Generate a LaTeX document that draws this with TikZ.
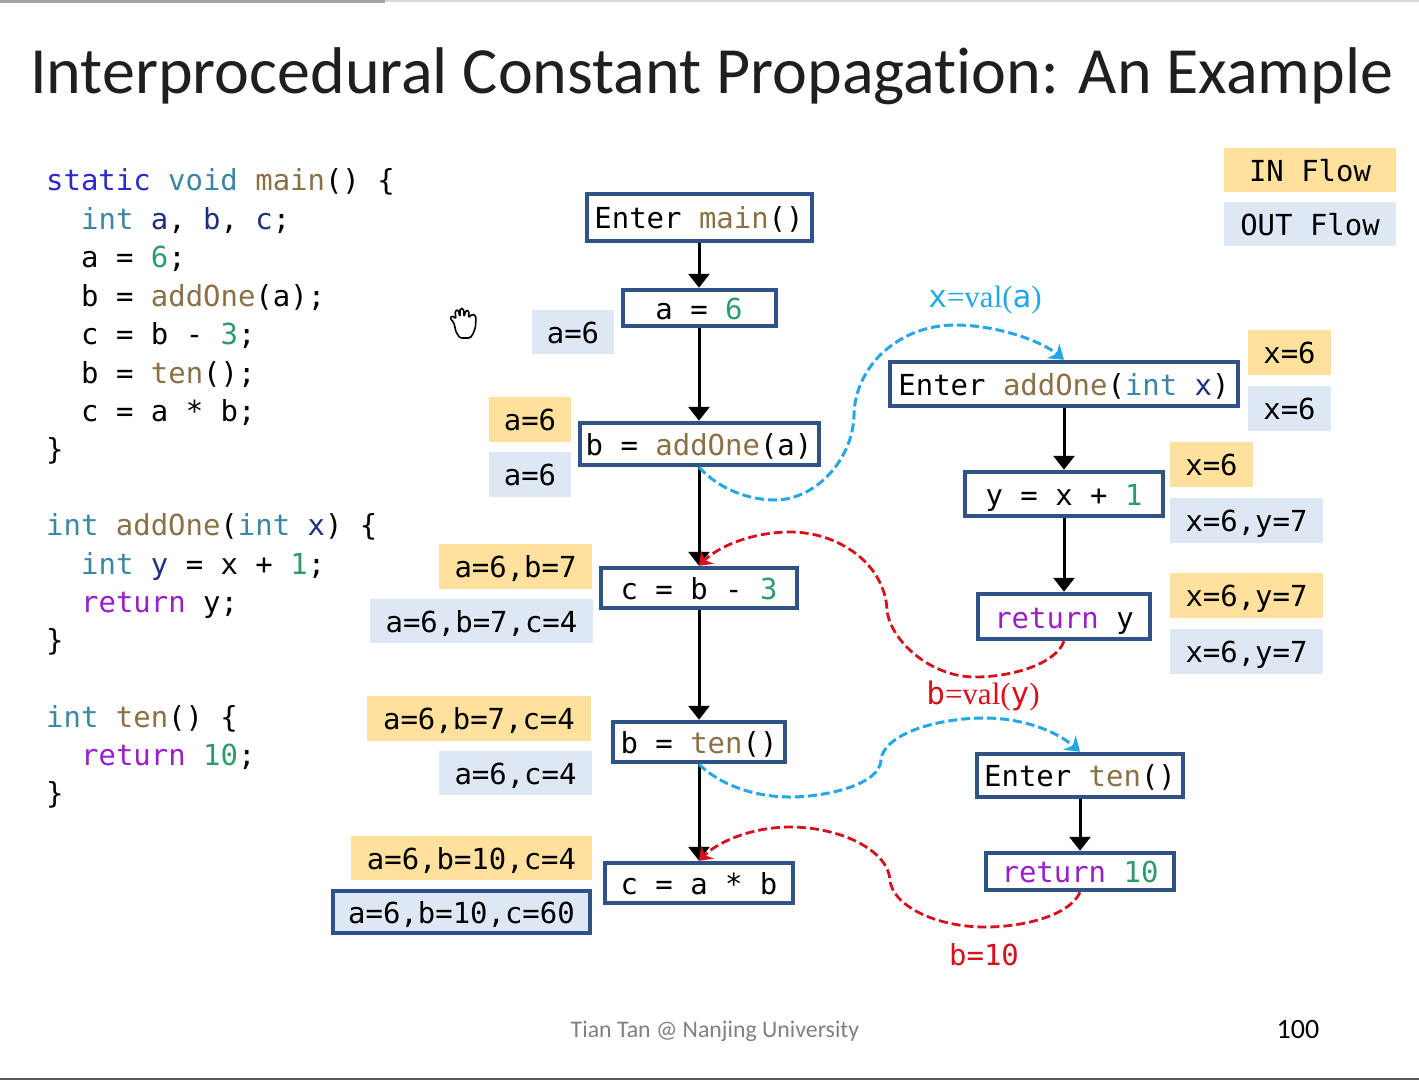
\documentclass[tikz,border=0pt]{standalone}
\usepackage{fontspec}
\usetikzlibrary{arrows.meta}
\setmainfont[Ligatures={NoCommon,NoRare,NoContextual}]{Carlito}
\newfontfamily\monof{DejaVu Sans Mono}
\newfontfamily\serf{Liberation Serif}
\definecolor{kwblue}{HTML}{2A2AD0}
\definecolor{kwteal}{HTML}{3A87A3}
\definecolor{fnbrown}{HTML}{8A7045}
\definecolor{numgreen}{HTML}{2E9B6B}
\definecolor{retpurple}{HTML}{9A1FC8}
\definecolor{varnavy}{HTML}{1F2F80}
\definecolor{boxblue}{HTML}{2F5288}
\definecolor{inyellow}{HTML}{FFE09C}
\definecolor{outblue}{HTML}{DEE8F5}
\definecolor{callblue}{HTML}{22A8E8}
\definecolor{retred}{HTML}{D9101C}
\newcommand{\kw}[1]{\textcolor{kwblue}{#1}}
\newcommand{\ty}[1]{\textcolor{kwteal}{#1}}
\newcommand{\fn}[1]{\textcolor{fnbrown}{#1}}
\newcommand{\nm}[1]{\textcolor{numgreen}{#1}}
\newcommand{\rt}[1]{\textcolor{retpurple}{#1}}
\newcommand{\vr}[1]{\textcolor{varnavy}{#1}}
\tikzset{
  mono/.style={font=\monof\fontsize{28.95}{30}\selectfont},
  codeline/.style={mono,anchor=base west,inner sep=0pt,text=black},
  cfgbox/.style={mono,draw=boxblue,line width=4pt,fill=white,inner sep=0pt,text height=22pt,text depth=0pt,align=center},
  flowbase/.style={mono,inner sep=0pt,text height=22pt,text depth=0pt,align=center},
  inflow/.style={flowbase,fill=inyellow},
  outflow/.style={flowbase,fill=outblue},
  flowedge/.style={draw=black,line width=3pt,-{Triangle[length=14pt,width=21pt]}},
  calledge/.style={draw=callblue,line width=3pt,dash pattern=on 9pt off 4pt,-{Stealth[length=14pt,width=19pt]}},
  retedge/.style={draw=retred,line width=2.8pt,dash pattern=on 9pt off 4pt,-{Stealth[length=12pt,width=18pt]}},
}
\begin{document}
\begin{tikzpicture}[x=1pt,y=-1pt]
\useasboundingbox (0,0) rectangle (1419,1080);
\fill[white] (0,0) rectangle (1419,1080);
% window edges
\fill[black!15] (0,0) rectangle (1419,2);
\fill[black!35] (0,0) rectangle (385,3);
\fill[black!65] (0,1077.5) rectangle (1419,1080);
% title
\node[anchor=base west,inner sep=0pt,text=black!88,font=\fontsize{66}{70}\selectfont] (title) at (30,93) {Interprocedural Constant Propagation: An Example};
% code
\node[codeline] (c1) at (46,190.5) {\kw{static} \ty{void} \fn{main}() \{};
\node[codeline] (c2) at (81,229) {\ty{int} \vr{a}, \vr{b}, \vr{c};};
\node[codeline] (c3) at (81,267) {a = \nm{6};};
\node[codeline] (c4) at (81,306) {b = \fn{addOne}(a);};
\node[codeline] (c5) at (81,344) {c = b - \nm{3};};
\node[codeline] (c6) at (81,383) {b = \fn{ten}();};
\node[codeline] (c7) at (81,421) {c = a * b;};
\node[codeline] (c8) at (46,459) {\}};
\node[codeline] (c9) at (46,535) {\ty{int} \fn{addOne}(\ty{int} \vr{x}) \{};
\node[codeline] (c10) at (81,574) {\ty{int} \vr{y} = x + \nm{1};};
\node[codeline] (c11) at (81,612) {\rt{return} y;};
\node[codeline] (c12) at (46,650) {\}};
\node[codeline] (c13) at (46,727) {\ty{int} \fn{ten}() \{};
\node[codeline] (c14) at (81,765) {\rt{return} \nm{10};};
\node[codeline] (c15) at (46,803) {\}};
% hand cursor
\draw[black,line width=1.6pt,fill=white,line join=round,rounded corners=1.5pt]
 (454,323) -- (450,318) -- (452,315.5) -- (456,319) -- (455,311) -- (458,309.5) -- (460,317) -- (460,308.5) -- (463.5,308.5) -- (464,317) -- (466,310) -- (469,311) -- (468.5,318) -- (472,314) -- (476,316) -- (475.5,327) -- (473,334) -- (470,338) -- (460,338) -- (456,332) -- cycle;
% legend
\node[inflow,minimum width=172pt,minimum height=44pt] (lin) at (1310,170) {IN Flow};
\node[outflow,minimum width=172pt,minimum height=44pt] (lout) at (1310,224) {OUT Flow};
% CFG main
\node[cfgbox,minimum width=225pt,minimum height=47.5pt] (m0) at (699,217.5) {Enter \fn{main}()};
\node[cfgbox,minimum width=153pt,minimum height=36.5pt] (m1) at (699,308) {a = \nm{6}};
\node[cfgbox,minimum width=239pt,minimum height=42.5pt] (m2) at (699,444) {b = \fn{addOne}(a)};
\node[cfgbox,minimum width=195.5pt,minimum height=40.5pt] (m3) at (699,588) {c = b - \nm{3}};
\node[cfgbox,minimum width=172.5pt,minimum height=40.5pt] (m4) at (699,742) {b = \fn{ten}()};
\node[cfgbox,minimum width=188.5pt,minimum height=40.5pt] (m5) at (699,883) {c = a * b};
% CFG addOne
\node[cfgbox,minimum width=348.5pt,minimum height=44.5pt] (a0) at (1064,384) {Enter \fn{addOne}(\ty{int} \vr{x})};
\node[cfgbox,minimum width=198.5pt,minimum height=44.5pt] (a1) at (1064,494) {y = x + \nm{1}};
\node[cfgbox,minimum width=172.5pt,minimum height=45.5pt,text height=24pt] (a2) at (1064,616.5) {\rt{return} y};
% CFG ten
\node[cfgbox,minimum width=205.5pt,minimum height=43.5pt] (t0) at (1080,775.5) {Enter \fn{ten}()};
\node[cfgbox,minimum width=188.5pt,minimum height=37.5pt] (t1) at (1080,871.5) {\rt{return} \nm{10}};
% flow edges
\draw[flowedge] (m0) -- (m1);
\draw[flowedge] (m1) -- (m2);
\draw[flowedge] (m2) -- (m3);
\draw[flowedge] (m3) -- (m4);
\draw[flowedge] (m4) -- (m5);
\draw[flowedge] (a0) -- (a1);
\draw[flowedge] (a1) -- (a2);
\draw[flowedge] (t0) -- (t1);
% call / return edges
\draw[calledge] (m2.south) .. controls (720,490) and (750,500) .. (775,500) .. controls (815,500) and (853,460) .. (854,415) .. controls (855,365) and (900,325) .. (955,325) .. controls (995,325) and (1040,340) .. (a0.north);
\draw[retedge] (a2.south) .. controls (1055,665) and (1010,677) .. (975,677) .. controls (930,677) and (890,640) .. (887,610) .. controls (885,565) and (840,532) .. (790,532) .. controls (755,532) and (720,545) .. (m3.north);
\draw[calledge] (m4.south) .. controls (720,785) and (755,797) .. (790,797) .. controls (825,797) and (880,785) .. (881,760) .. controls (883,735) and (935,718) .. (985,718) .. controls (1020,718) and (1055,730) .. (t0.north);
\draw[retedge] (t1.south) .. controls (1070,915) and (1025,927) .. (985,927) .. controls (935,927) and (892,905) .. (890,880) .. controls (888,850) and (840,827) .. (790,827) .. controls (755,827) and (720,840) .. (m5.north);
% flow values main
\node[outflow,minimum width=82pt,minimum height=44pt] (f1) at (573,332) {a=6};
\node[inflow,minimum width=82pt,minimum height=45pt] (f2) at (530,419.5) {a=6};
\node[outflow,minimum width=82pt,minimum height=45pt] (f3) at (530,474.5) {a=6};
\node[inflow,minimum width=153pt,minimum height=45pt] (f4) at (515.5,566.5) {a=6,b=7};
\node[outflow,minimum width=223pt,minimum height=44pt] (f5) at (481.5,621) {a=6,b=7,c=4};
\node[inflow,minimum width=224pt,minimum height=45pt] (f6) at (479,718.5) {a=6,b=7,c=4};
\node[outflow,minimum width=153pt,minimum height=44pt] (f7) at (515.5,773) {a=6,c=4};
\node[inflow,minimum width=241pt,minimum height=44pt] (f8) at (471.5,858) {a=6,b=10,c=4};
\node[outflow,draw=boxblue,line width=4pt,minimum width=256.5pt,minimum height=42.5pt] (f9) at (461.5,912) {a=6,b=10,c=60};
% flow values addOne
\node[inflow,minimum width=83pt,minimum height=45pt] (g1) at (1289.5,352.5) {x=6};
\node[outflow,minimum width=83pt,minimum height=45pt] (g2) at (1289.5,408.5) {x=6};
\node[inflow,minimum width=83pt,minimum height=45pt] (g3) at (1211.5,464.5) {x=6};
\node[outflow,minimum width=153pt,minimum height=45pt] (g4) at (1246.5,520.5) {x=6,y=7};
\node[inflow,minimum width=153pt,minimum height=45pt] (g5) at (1246.5,595.5) {x=6,y=7};
\node[outflow,minimum width=153pt,minimum height=45pt] (g6) at (1246.5,651.5) {x=6,y=7};
% edge labels
\node[inner sep=0pt,anchor=base,text=callblue,font=\serf\fontsize{31}{33}\selectfont] (l1) at (985,307) {{\monof x}=val({\monof a})};
\node[inner sep=0pt,anchor=base,text=retred,font=\serf\fontsize{31}{33}\selectfont] (l2) at (983,704) {{\monof b}=val({\monof y})};
\node[mono,inner sep=0pt,anchor=base,text=retred] (l3) at (984,965) {b=10};
% footer
\node[inner sep=0pt,anchor=base,text=black!50,font=\fontsize{23.8}{25}\selectfont] (foot) at (715,1037) {Tian Tan @ Nanjing University};
\node[inner sep=0pt,anchor=base,font=\fontsize{28}{30}\selectfont] (page) at (1298,1038) {100};
\end{tikzpicture}
\end{document}
